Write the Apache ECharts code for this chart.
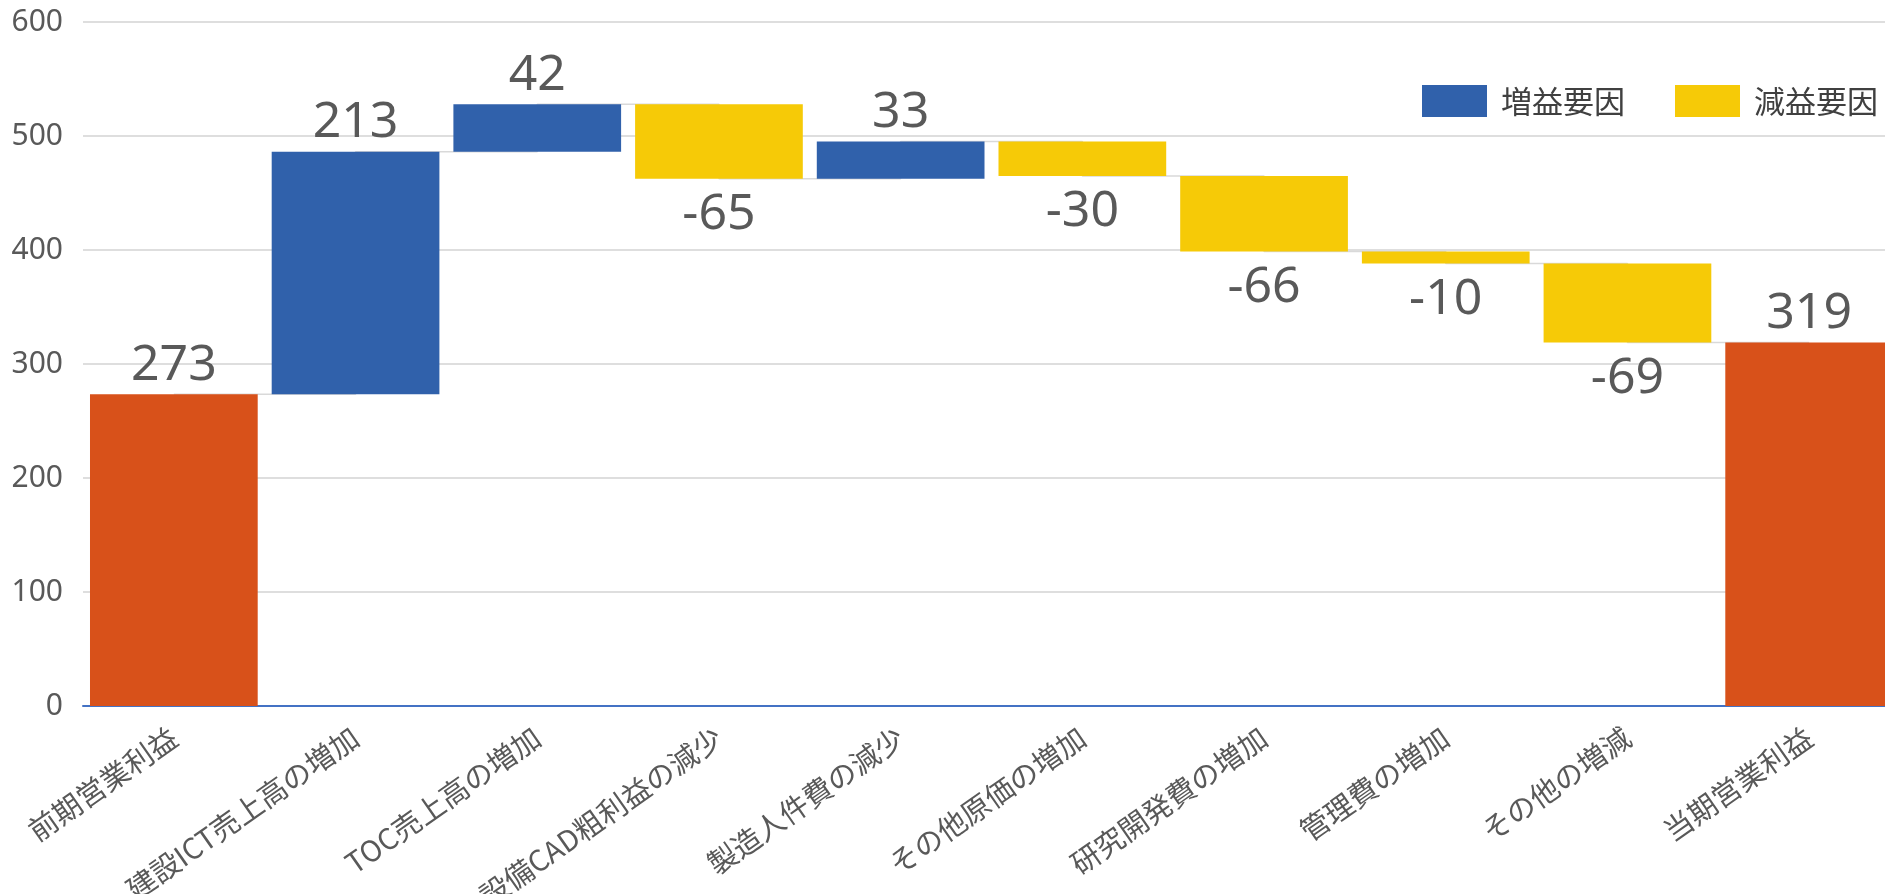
<!DOCTYPE html>
<html>
<head>
<meta charset="utf-8">
<script src="https://cdn.jsdelivr.net/npm/echarts@6/dist/echarts.min.js"></script>
<style>
  html, body { margin: 0; padding: 0; background: #fff; }
  #main { width: 1885px; height: 894px; }
</style>
</head>
<body>
<div id="main"></div>
<script>
// 項目
let categories = ['前期営業利益', '建設ICT売上高の増加', 'TOC売上高の増加', '設備CAD粗利益の減少', '製造人件費の減少',
    'その他原価の増加', '研究開発費の増加', '管理費の増加', 'その他の増減', '当期営業利益'];
// 前期・当期（棒の高さから読み取り）
let startValue = 273.4;
let endValue = 318.8;
// 増減（ラベルは四捨五入で表示）
let deltas = [212.7, 41.7, -65.3, 32.7, -30.3, -66.3, -10.4, -69.4];
let yTicks = [0, 100, 200, 300, 400, 500, 600];

let textColor = '#595959';
let blue = '#3061AB';
let yellow = '#F6CA07';
let orange = '#D8511A';

let baseData = [0];
let upData = ['-'];
let downData = ['-'];
let totalData = [startValue];
let levels = [startValue];
let labelValues = [startValue];
let cum = startValue;
for (let i = 0; i < deltas.length; i++) {
    let next = cum + deltas[i];
    baseData.push(Math.min(cum, next));
    upData.push(deltas[i] > 0 ? deltas[i] : '-');
    downData.push(deltas[i] < 0 ? -deltas[i] : '-');
    totalData.push('-');
    labelValues.push(deltas[i]);
    cum = next;
    levels.push(cum);
}
baseData.push(0);
upData.push('-');
downData.push('-');
totalData.push(endValue);
labelValues.push(endValue);
levels.push(endValue);

let numFont = "'Noto Sans', 'Noto Sans CJK JP', sans-serif";
let jpFont = "'Noto Sans CJK JP', 'Noto Sans', sans-serif";

let fmt = (p) => String(Math.round(labelValues[p.dataIndex]));

let chart = echarts.init(document.getElementById('main'));
chart.setOption({
    animation: false,
    grid: { left: 83, right: -15, top: 22, bottom: 188, containLabel: false, outerBoundsMode: 'none' },
    legend: {
        data: ['増益要因', '減益要因'],
        icon: 'rect',
        right: 2,
        top: 80,
        itemWidth: 65,
        itemHeight: 32,
        itemGap: 50,
        itemStyle: { borderWidth: 0 },
        textStyle: { fontSize: 31, color: '#404040', fontFamily: jpFont, padding: [0, 0, 0, 9] }
    },
    xAxis: {
        type: 'category',
        data: categories,
        axisLine: { lineStyle: { color: '#4472C4', width: 2 } },
        axisTick: { show: false },
        axisLabel: {
            interval: 0,
            rotate: 35,
            margin: 28,
            fontSize: 29,
            color: textColor,
            fontFamily: jpFont
        }
    },
    yAxis: {
        type: 'value',
        min: yTicks[0],
        max: yTicks[yTicks.length - 1],
        interval: 100,
        axisLine: { show: false },
        axisTick: { show: false },
        splitLine: { lineStyle: { color: '#DEDEDE', width: 2 } },
        axisLabel: { fontSize: 30, color: textColor, margin: 20, fontFamily: numFont }
    },
    series: [
        {
            name: 'connector',
            type: 'line',
            step: 'end',
            data: levels,
            symbol: 'none',
            silent: true,
            z: 1,
            lineStyle: { color: '#D9D9D9', width: 1.5 }
        },
        {
            name: 'base',
            type: 'bar',
            stack: 'w',
            data: baseData,
            barCategoryGap: '7.7%',
            silent: true,
            z: 2,
            itemStyle: { color: 'transparent' }
        },
        {
            name: '増益要因',
            type: 'bar',
            stack: 'w',
            data: upData,
            z: 2,
            itemStyle: { color: blue },
            label: { show: true, position: 'top', distance: 4, fontSize: 50, color: textColor, fontFamily: numFont, formatter: fmt }
        },
        {
            name: '減益要因',
            type: 'bar',
            stack: 'w',
            data: downData,
            z: 2,
            itemStyle: { color: yellow },
            label: { show: true, position: 'bottom', distance: 11, fontSize: 50, color: textColor, fontFamily: numFont, formatter: fmt }
        },
        {
            name: '合計',
            type: 'bar',
            stack: 'w',
            data: totalData,
            z: 2,
            itemStyle: { color: orange },
            label: { show: true, position: 'top', distance: 4, fontSize: 50, color: textColor, fontFamily: numFont, formatter: fmt }
        }
    ]
});
</script>
</body>
</html>
